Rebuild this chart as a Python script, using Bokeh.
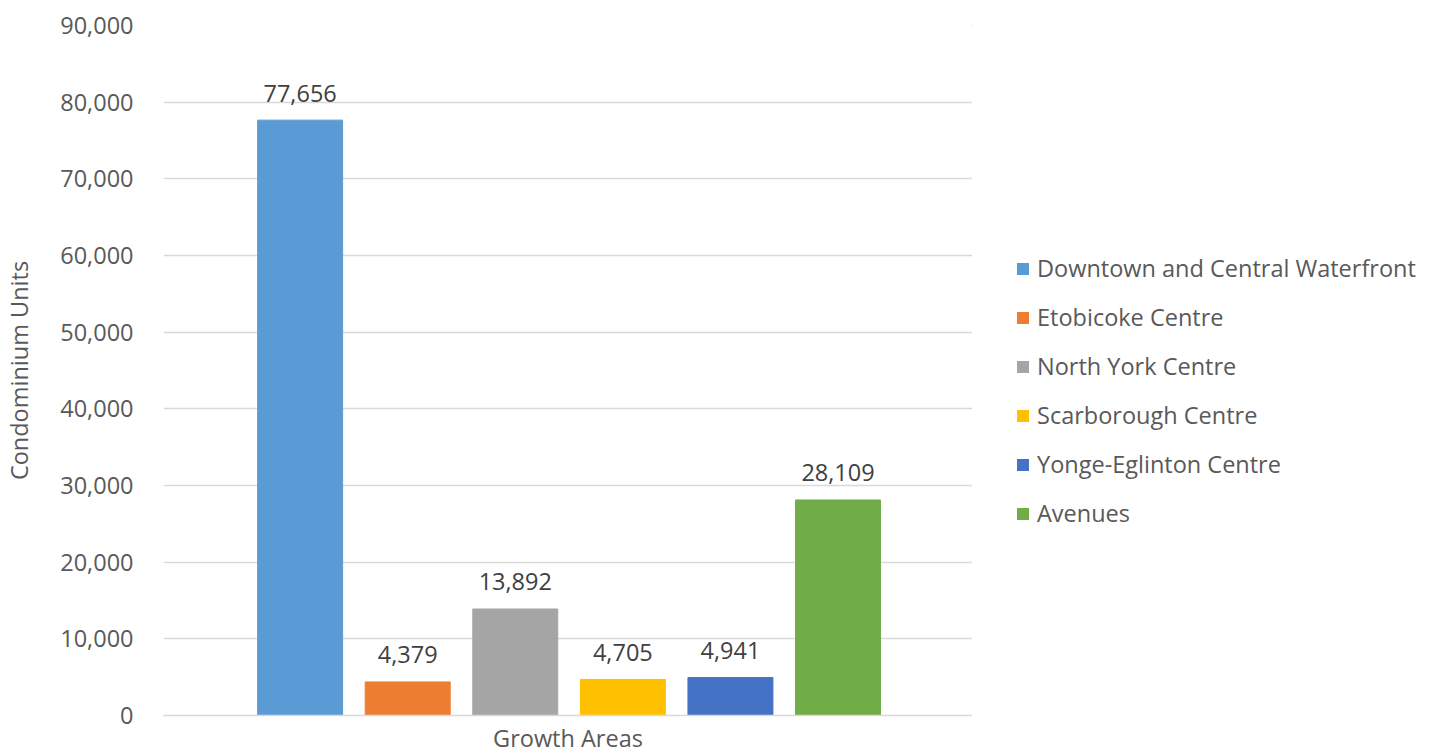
from bokeh.plotting import figure
from bokeh.layouts import row
from bokeh.models import ColumnDataSource, Range1d, LabelSet, NumeralTickFormatter, FixedTicker
from bokeh.core.properties import value
from bokeh.embed import file_html
from bokeh.resources import INLINE

categories = ["Downtown and Central Waterfront", "Etobicoke Centre", "North York Centre",
              "Scarborough Centre", "Yonge-Eglinton Centre", "Avenues"]
units = [77656, 4379, 13892, 4705, 4941, 28109]
colors = ["#5B9BD5", "#ED7D31", "#A5A5A5", "#FFC000", "#4472C4", "#70AD47"]
y_ticks = [0, 10000, 20000, 30000, 40000, 50000, 60000, 70000, 80000, 90000]

FONT = "Open Sans"
FS = "23.5px"
src = ColumnDataSource(dict(
    x=list(range(len(categories))),
    cat=categories,
    v=units,
    lbl=[f"{u:,}" for u in units],
    c=colors,
))

p = figure(width=972, height=756, output_backend="svg", toolbar_location=None,
           x_range=Range1d(-1.27, 6.25), y_range=Range1d(0, 90000),
           min_border_left=160, min_border_right=0, min_border_top=25, min_border_bottom=40)
p.outline_line_color = None
p.background_fill_color = "white"
p.border_fill_color = "white"

p.vbar(x="x", top="v", width=0.79, color="c", source=src)

labels = LabelSet(x="x", y="v", text="lbl", source=src, text_align="center",
                  text_baseline="middle", y_offset=27, text_font=value(FONT),
                  text_font_size=FS, text_color="#404040")
p.add_layout(labels)

p.xgrid.grid_line_color = None
p.ygrid.grid_line_color = "#d9d9d9"
p.ygrid.grid_line_width = 1.3
p.yaxis.ticker = FixedTicker(ticks=y_ticks)
p.yaxis.formatter = NumeralTickFormatter(format="0,0")
p.yaxis.axis_line_color = None
p.yaxis.major_tick_line_color = None
p.yaxis.minor_tick_line_color = None
p.yaxis.major_label_text_font = FONT
p.yaxis.major_label_text_font_size = FS
p.yaxis.major_label_text_color = "#595959"
p.yaxis.major_label_standoff = 24
p.yaxis.axis_label = "Condominium Units"
p.yaxis.axis_label_text_font = FONT
p.yaxis.axis_label_text_font_size = FS
p.yaxis.axis_label_text_font_style = "normal"
p.yaxis.axis_label_text_color = "#595959"
p.yaxis.axis_label_standoff = 22

p.xaxis.ticker = FixedTicker(ticks=[])
p.xaxis.axis_line_color = "#d9d9d9"
p.xaxis.axis_line_width = 1.3
p.xaxis.major_tick_line_color = None
p.xaxis.minor_tick_line_color = None
p.xaxis.axis_label = "Growth Areas"
p.xaxis.axis_label_text_font = FONT
p.xaxis.axis_label_text_font_size = FS
p.xaxis.axis_label_text_font_style = "normal"
p.xaxis.axis_label_text_color = "#595959"
p.xaxis.axis_label_standoff = 6

# Legend panel: same series; its bars have zero width and lie outside the ranges, so only the legend shows
q = figure(width=466, height=756, output_backend="svg", toolbar_location=None,
           x_range=Range1d(100, 101), y_range=Range1d(-200000, -190000),
           x_axis_type=None, y_axis_type=None,
           min_border_left=0, min_border_right=0, min_border_top=0, min_border_bottom=0)
q.outline_line_color = None
q.xgrid.grid_line_color = None
q.ygrid.grid_line_color = None
q.border_fill_color = "white"
q.background_fill_color = "white"
q.vbar(x="x", top="v", width=0, fill_color="c", line_alpha=0, source=src, legend_field="cat")

leg = q.legend[0]
leg.location = (43, 182)
leg.border_line_color = None
leg.background_fill_alpha = 0
leg.padding = 0
leg.margin = 0
leg.glyph_width = 15
leg.glyph_height = 15
leg.label_height = 40
leg.spacing = 9
leg.label_standoff = 7
leg.label_text_font = FONT
leg.label_text_font_size = FS
leg.label_text_color = "#595959"

layout = row(p, q, spacing=0)
open("out.html", "w").write(file_html(layout, INLINE))
